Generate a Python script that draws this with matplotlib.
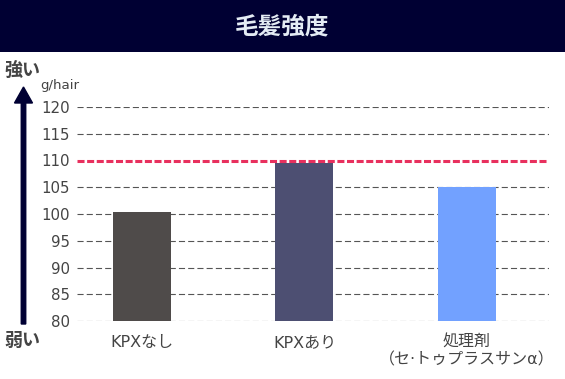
import numpy as np
import matplotlib.pyplot as plt
from matplotlib.patches import FancyArrow, Rectangle

plt.rcParams['font.family'] = ['DejaVu Sans', 'Noto Sans CJK JP']

categories = ['KPXなし', 'KPXあり', '処理剤\n（セ·トゥプラスサンα）']
values = [100.4, 109.6, 105.0]
colors = ['#4f4b4a', '#4d4f72', '#72a1ff']
yticks = [80, 85, 90, 95, 100, 105, 110, 115, 120]
target = 110
title = '毛髪強度'

W, H = 565, 379
fig = plt.figure(figsize=(W / 100, H / 100), dpi=100)

# title band
fig.add_artist(Rectangle((0, 1 - 52 / H), 1, 52 / H, transform=fig.transFigure,
                         facecolor='#000033', edgecolor='none'))
fig.text(0.5, 1 - 26 / H, title, ha='center', va='center', color='#e4ecf4',
         fontsize=17, fontweight='bold', family=['Noto Sans CJK JP'])

ax = fig.add_axes([77 / W, 58 / H, 472 / W, 214 / H])
x = np.arange(len(categories))
ax.bar(x, [v - yticks[0] for v in values], bottom=yticks[0], width=0.357,
       color=colors, zorder=2)
for t in yticks:
    if t == target:
        continue
    ax.axhline(t, color='#555555', lw=0.8, dashes=(5.5, 2.8), zorder=1)
ax.axhline(target, color='#e8305e', lw=2.2, dashes=(2.3, 0.85), zorder=3)

ax.set_xlim(-0.4, 2.505)
ax.set_ylim(yticks[0], yticks[-1])
ax.set_yticks(yticks)
ax.set_yticklabels([str(t) for t in yticks], fontsize=10.8, color='#444444')
ax.set_xticks(x)
ax.set_xticklabels(categories, fontsize=11.5, color='#444444', linespacing=1.15)
ax.tick_params(length=0, pad=5)
ax.tick_params(axis='x', pad=10)
for s in ax.spines.values():
    s.set_visible(False)

# strength arrow
fig.add_artist(FancyArrow(23.5 / W, (H - 324) / H, 0, (324 - 87) / H,
                          width=3 / H, head_width=18 / W, head_length=16 / H,
                          length_includes_head=True, transform=fig.transFigure,
                          color='#000033'))
fig.text(4 / W, 1 - 70 / H, '強い', ha='left', va='center', fontsize=13,
         fontweight='bold', color='#444444', family=['Noto Sans CJK JP'])
fig.text(4 / W, 1 - 340 / H, '弱い', ha='left', va='center', fontsize=13,
         fontweight='bold', color='#444444', family=['Noto Sans CJK JP'])
fig.text(40 / W, 1 - 86 / H, 'g/hair', ha='left', va='center', fontsize=9.6,
         color='#444444')

fig.savefig('out.png', dpi=100)
